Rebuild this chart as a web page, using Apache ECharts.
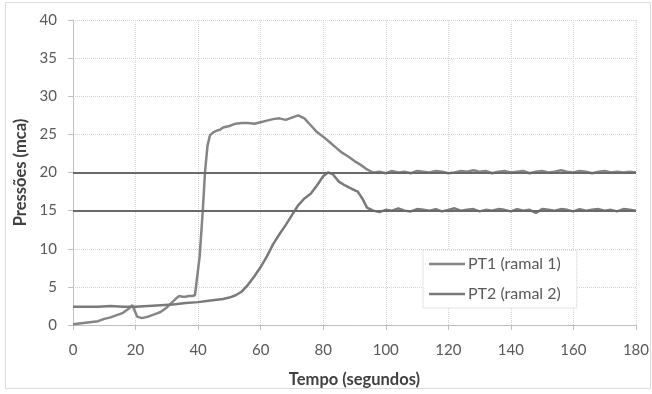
<!DOCTYPE html>
<html>
<head>
<meta charset="utf-8">
<script src="https://cdn.jsdelivr.net/npm/echarts@6/dist/echarts.min.js"></script>
<style>
html,body{margin:0;padding:0;background:#fff;}
#chart{width:652px;height:394px;}
</style>
</head>
<body>
<div id="chart"></div>
<script>
// Series PT1 (ramal 1): time (s) and pressure (mca)
var pt1Time = [0,2,4,6,8,10,12,14,16,17,18,19,20,20.5,21,22,24,26,28,30,31,32,33,34,35,36,37,38,39,39.5,40.5,41.5,42.2,43,43.8,45,46,47,48,50,52,54,56,58,60,62,64,66,68,70,72,74,76,78,80,82,84,86,88,90,92,94,96,98,100,102,104,106,108,110,112,114,116,118,120,122,124,126,128,130,132,134,136,138,140,142,144,146,148,150,152,154,156,158,160,162,164,166,168,170,172,174,176,178,180];
var pt1Value = [0.1,0.2,0.3,0.4,0.5,0.8,1.0,1.3,1.6,1.9,2.2,2.6,1.6,1.1,0.9,0.9,1.1,1.4,1.7,2.3,2.7,3.1,3.5,3.8,3.7,3.7,3.8,3.8,3.9,3.9,9.0,15.0,20.0,23.5,24.9,25.3,25.5,25.6,25.9,26.1,26.4,26.5,26.5,26.4,26.6,26.8,27.0,27.1,26.9,27.2,27.5,27.1,26.2,25.3,24.7,24.0,23.3,22.6,22.1,21.5,21.0,20.4,20.0,20.1,19.9,20.2,20.0,20.1,19.9,20.2,20.1,20.0,20.2,20.1,19.9,20.0,20.2,20.1,20.3,20.1,20.2,19.9,20.1,20.2,20.0,20.1,20.2,19.9,20.1,20.2,20.0,20.1,20.3,20.1,20.0,20.2,20.1,19.9,20.1,20.2,20.0,20.1,20.0,20.1,20.0];

// Series PT2 (ramal 2): time (s) and pressure (mca)
var pt2Time = [0,4,8,12,16,20,24,28,32,36,40,44,48,50,52,54,56,58,60,62,64,66,68,70,72,74,76,78,80,81.5,83,85,87,89,91,92.5,94,96,98,100,102,104,106,108,110,112,114,116,118,120,122,124,126,128,130,132,134,136,138,140,142,144,146,148,150,152,154,156,158,160,162,164,166,168,170,172,174,176,178,180];
var pt2Value = [2.4,2.4,2.4,2.5,2.4,2.4,2.5,2.6,2.7,2.9,3.0,3.2,3.4,3.6,3.9,4.4,5.3,6.4,7.6,9.0,10.6,11.9,13.1,14.4,15.7,16.6,17.2,18.3,19.5,20.0,19.8,18.8,18.3,17.9,17.5,16.6,15.4,15.0,14.8,15.1,15.0,15.3,15.0,14.9,15.2,15.1,15.0,15.2,14.9,15.1,15.3,15.0,15.1,15.2,14.9,15.1,15.0,15.2,15.1,14.9,15.2,15.0,15.1,14.7,15.2,15.1,15.0,15.2,15.1,14.9,15.2,15.0,15.1,15.2,15.0,15.1,14.9,15.2,15.1,15.0];

var seriesNames = ['PT1 (ramal 1)', 'PT2 (ramal 2)'];
var refLevels = [20, 15];
var xTicks = [0,20,40,60,80,100,120,140,160,180];
var yTicks = [0,5,10,15,20,25,30,35,40];

function pairs(t, v){ return t.map(function(x,i){ return [x, v[i]]; }); }

var chart = echarts.init(document.getElementById('chart'));
var fontFam = 'Lato, "Open Sans", sans-serif';
chart.setOption({
  animation: false,
  backgroundColor: '#ffffff',
  graphic: [{
    type: 'rect', silent: true,
    shape: {x: 5.5, y: 2.5, width: 645, height: 386},
    style: {fill: 'none', stroke: '#dcdcdc', lineWidth: 1}
  }],
  grid: {left: 73, right: 16, top: 20, bottom: 69},
  legend: {
    orient: 'vertical',
    left: 423, top: 250,
    padding: [6, 16, 6, 6],
    itemGap: 14,
    itemWidth: 36, itemHeight: 14,
    backgroundColor: '#ffffff',
    borderColor: '#c8c8c8', borderWidth: 1, borderType: 'dotted',
    icon: 'path://M0,6 L36,6 L36,8.5 L0,8.5 Z',
    textStyle: {fontFamily: fontFam, fontSize: 16, color: '#595959', padding: [0,0,0,-2]},
    data: seriesNames
  },
  xAxis: {
    type: 'value', min: 0, max: 180, interval: 20,
    name: 'Tempo (segundos)', nameLocation: 'middle', nameGap: 46,
    nameTextStyle: {fontFamily: fontFam, fontSize: 16.5, fontWeight: 'bold', color: '#404040'},
    axisLine: {show: true, onZero: false, lineStyle: {color: '#bfbfbf', width: 1}},
    axisTick: {show: true, length: 5, lineStyle: {color: '#bfbfbf'}},
    axisLabel: {fontFamily: fontFam, fontSize: 15, color: '#595959', margin: 18,
      formatter: function(v){ return xTicks.indexOf(v) >= 0 ? String(v) : ''; }},
    splitLine: {show: true, lineStyle: {color: '#d4d4d4', type: 'dotted'}}
  },
  yAxis: {
    type: 'value', min: 0, max: 40, interval: 5,
    name: 'Pressões (mca)', nameLocation: 'middle', nameGap: 43, nameRotate: 90,
    nameTextStyle: {fontFamily: fontFam, fontSize: 16.5, fontWeight: 'bold', color: '#404040'},
    axisLine: {show: true, lineStyle: {color: '#bfbfbf', width: 1}},
    axisTick: {show: true, length: 5, lineStyle: {color: '#bfbfbf'}},
    axisLabel: {fontFamily: fontFam, fontSize: 15, color: '#595959', margin: 16,
      formatter: function(v){ return yTicks.indexOf(v) >= 0 ? String(v) : ''; }},
    splitLine: {show: true, lineStyle: {color: '#d4d4d4', type: 'dotted'}}
  },
  series: [{
    name: seriesNames[0], type: 'line', showSymbol: false, symbol: 'none',
    color: '#858585',
    lineStyle: {color: '#858585', width: 2.5},
    data: pairs(pt1Time, pt1Value),
    z: 3
  }, {
    name: seriesNames[1], type: 'line', showSymbol: false, symbol: 'none',
    color: '#7a7a7a',
    lineStyle: {color: '#7a7a7a', width: 2.5},
    data: pairs(pt2Time, pt2Value),
    z: 3,
    markLine: {
      silent: true, symbol: 'none', label: {show: false},
      lineStyle: {color: '#6a6a6a', width: 2, type: 'solid'},
      data: refLevels.map(function(v){ return {yAxis: v}; }),
      z: 4
    }
  }]
});
</script>
</body>
</html>
